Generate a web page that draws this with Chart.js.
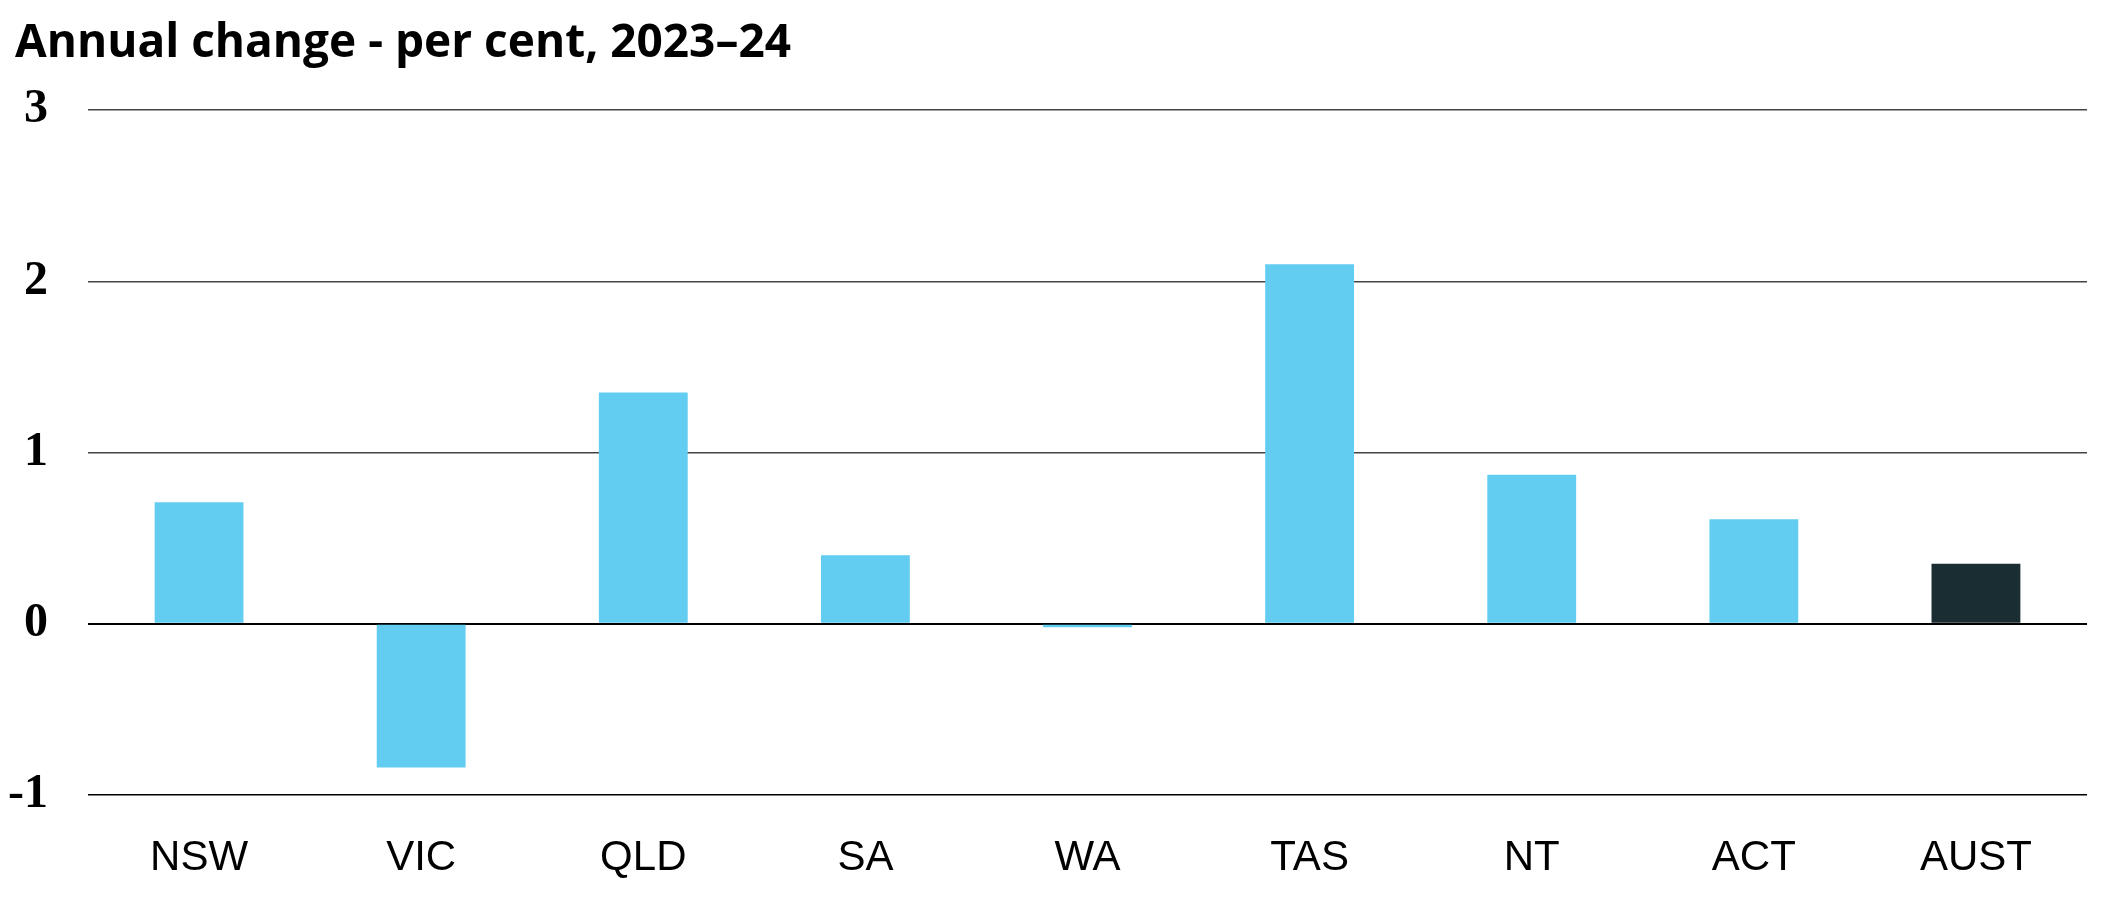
<!DOCTYPE html>
<html>
<head>
<meta charset="utf-8">
<script src="https://cdn.jsdelivr.net/npm/chart.js@4"></script>
<style>
  html, body { margin: 0; padding: 0; background: #ffffff; }
  #wrap { width: 2101px; height: 911px; }
</style>
</head>
<body>
<div id="wrap"><canvas id="c" width="2101" height="911"></canvas></div>
<script>
const titleText = 'Annual change - per cent, 2023\u201324';
const categories = ['NSW', 'VIC', 'QLD', 'SA', 'WA', 'TAS', 'NT', 'ACT', 'AUST'];
const values = [0.71, -0.84, 1.35, 0.40, -0.02, 2.10, 0.87, 0.61, 0.35];
const yTicks = [-1, 0, 1, 2, 3];

const stateColor = '#62CDF0';
const totalColor = '#1A2D32';
const barColors = categories.map(c => c === 'AUST' ? totalColor : stateColor);

const titlePlugin = {
  id: 'titleText',
  afterDraw(chart) {
    const ctx = chart.ctx;
    ctx.save();
    ctx.font = 'bold 46px "Open Sans"';
    ctx.fillStyle = '#000';
    ctx.textBaseline = 'alphabetic';
    ctx.textAlign = 'left';
    ctx.fillText(titleText, 15, 57);
    ctx.restore();
  }
};

new Chart(document.getElementById('c'), {
  type: 'bar',
  data: {
    labels: categories,
    datasets: [{
      data: values,
      backgroundColor: barColors,
      borderWidth: 0,
      barPercentage: 0.4,
      categoryPercentage: 1.0
    }]
  },
  options: {
    responsive: false,
    animation: false,
    layout: { padding: { top: 110, right: 14, left: 0, bottom: 0 } },
    plugins: { legend: { display: false }, tooltip: { enabled: false } },
    scales: {
      x: {
        grid: { display: false },
        border: { display: false },
        ticks: {
          color: '#000',
          font: { family: 'Liberation Sans', size: 42 },
          padding: 30,
          maxRotation: 0
        },
        afterFit(scale) { scale.height = 116; }
      },
      y: {
        min: -1,
        max: 3,
        afterBuildTicks(scale) { scale.ticks = yTicks.map(v => ({ value: v })); },
        grid: {
          drawTicks: false,
          color: ctx => (ctx.tick && (ctx.tick.value === 0 || ctx.tick.value === -1)) ? '#000' : '#444',
          lineWidth: ctx => (ctx.tick && ctx.tick.value === 0) ? 2 : 1.5
        },
        border: { display: false },
        ticks: {
          color: '#000',
          font: { family: 'Liberation Serif', size: 48, weight: 'bold' },
          padding: 40
        },
        afterFit(scale) { scale.width = 88; }
      }
    }
  },
  plugins: [titlePlugin]
});
</script>
</body>
</html>
